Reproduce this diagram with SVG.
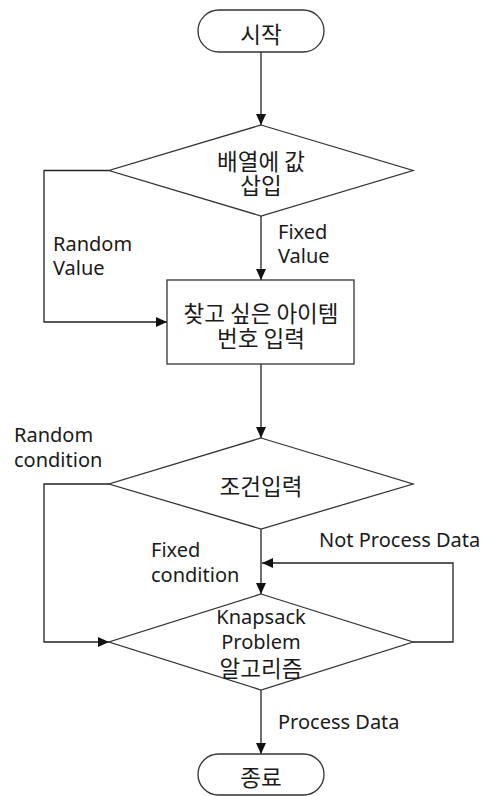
<svg xmlns="http://www.w3.org/2000/svg" width="488" height="796" viewBox="0 0 488 796">
<style>
.shape{fill:#fff;stroke:#333;stroke-width:1.3}
.edge{fill:none;stroke:#222;stroke-width:1.3}
.ko{font-family:"Noto Sans CJK KR","Noto Sans",sans-serif;font-size:22.5px;fill:#1a1a1a;text-anchor:middle;dominant-baseline:central}
.lat{font-family:"Noto Sans","Open Sans",sans-serif;font-size:20px;fill:#1a1a1a}
.mid{text-anchor:middle}
</style>
<defs>
<marker id="arr" markerUnits="userSpaceOnUse" markerWidth="11" markerHeight="10" refX="11" refY="5" orient="auto">
<path d="M0,0 L11,5 L0,10 z" fill="#111"/>
</marker>
</defs>
<rect width="488" height="796" fill="#fff"/>
<g id="connectors">
<path class="edge" d="M261,52 V125" marker-end="url(#arr)"/>
<path class="edge" d="M261,216 V280" marker-end="url(#arr)"/>
<path class="edge" d="M109,170.5 H44 V322 H167" marker-end="url(#arr)"/>
<path class="edge" d="M261,364 V438" marker-end="url(#arr)"/>
<path class="edge" d="M261,529 V594" marker-end="url(#arr)"/>
<path class="edge" d="M109,484 H44 V642 H109" marker-end="url(#arr)"/>
<path class="edge" d="M413,642 H453 V563 H262" marker-end="url(#arr)"/>
<path class="edge" d="M261,690 V754" marker-end="url(#arr)"/>
<text class="lat" x="53" y="251">Random</text>
<text class="lat" x="53" y="275">Value</text>
<text class="lat" x="278" y="239">Fixed</text>
<text class="lat" x="278" y="263">Value</text>
<text class="lat" x="14" y="442">Random</text>
<text class="lat" x="14" y="467">condition</text>
<text class="lat" x="151" y="557">Fixed</text>
<text class="lat" x="151" y="582">condition</text>
<text class="lat" x="319" y="547">Not Process Data</text>
<text class="lat" x="278" y="729">Process Data</text>
</g>
<g id="start">
<rect class="shape" x="198" y="10" width="126" height="42" rx="21"/>
<text class="ko" x="261" y="32.5">시작</text>
</g>
<g id="insert">
<polygon class="shape" points="261,125 413,170.5 261,216 109,170.5"/>
<text class="ko" x="261" y="160">배열에 값</text>
<text class="ko" x="261" y="184">삽입</text>
</g>
<g id="input-item">
<rect class="shape" x="167" y="280" width="187" height="84"/>
<text class="ko" x="261" y="311.5">찾고 싶은 아이템</text>
<text class="ko" x="261" y="336.5">번호 입력</text>
</g>
<g id="condition">
<polygon class="shape" points="261,438 413,484 261,529 109,484"/>
<text class="ko" x="261" y="485">조건입력</text>
</g>
<g id="knapsack">
<polygon class="shape" points="261,594 413,642 261,690 109,642"/>
<text class="lat mid" x="261" y="624">Knapsack</text>
<text class="lat mid" x="261" y="649">Problem</text>
<text class="ko" x="261" y="666.5">알고리즘</text>
</g>
<g id="end">
<rect class="shape" x="198" y="754" width="126" height="41" rx="20.5"/>
<text class="ko" x="261" y="775.5">종료</text>
</g>
</svg>
